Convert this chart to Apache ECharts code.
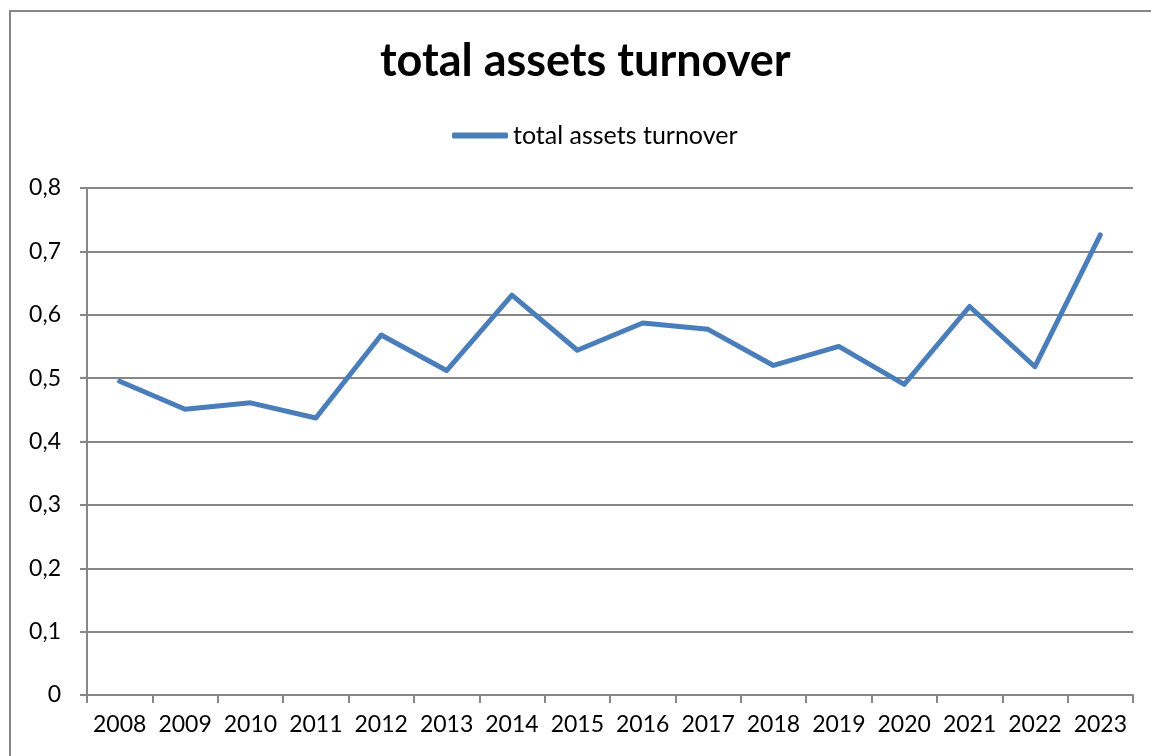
<!DOCTYPE html>
<html>
<head>
<meta charset="utf-8">
<script src="https://cdn.jsdelivr.net/npm/echarts@6/dist/echarts.min.js"></script>
<style>
  html, body { margin: 0; padding: 0; background: #fff; }
  #chart { width: 1151px; height: 756px; }
</style>
</head>
<body>
<div id="chart"></div>
<script>
// data
const years = ['2008', '2009', '2010', '2011', '2012', '2013', '2014', '2015',
  '2016', '2017', '2018', '2019', '2020', '2021', '2022', '2023'];
const turnover = [0.495, 0.451, 0.461, 0.437, 0.568, 0.512, 0.631, 0.544,
  0.587, 0.577, 0.520, 0.550, 0.490, 0.613, 0.518, 0.726];
const seriesName = 'total assets turnover';

const chart = echarts.init(document.getElementById('chart'));
const font = 'Lato, "Open Sans", sans-serif';

chart.setOption({
  animation: false,
  textStyle: { fontFamily: font },
  graphic: [{
    type: 'rect',
    shape: { x: 10, y: 11, width: 1200, height: 800 },
    style: { fill: 'none', stroke: '#868686', lineWidth: 2 }
  }],
  title: {
    text: 'total assets turnover',
    left: 375,
    top: 34,
    textStyle: { fontFamily: font, fontSize: 45, fontWeight: 'bold', color: '#000' }
  },
  legend: {
    data: [{ name: seriesName, icon: 'roundRect' }],
    top: 118,
    left: 447,
    itemWidth: 56,
    itemHeight: 6,
    itemGap: 4,
    textStyle: { fontFamily: font, fontSize: 25, color: '#000' }
  },
  grid: {
    left: 87,
    right: 18,
    top: 188,
    bottom: 61
  },
  xAxis: {
    type: 'category',
    data: years,
    boundaryGap: true,
    axisLine: { lineStyle: { color: '#868686', width: 2 } },
    axisTick: { show: true, alignWithLabel: false, length: 8, lineStyle: { color: '#868686', width: 2 } },
    axisLabel: { color: '#000', fontSize: 23, margin: 18, fontFamily: font, interval: 0 }
  },
  yAxis: {
    type: 'value',
    min: 0,
    max: 0.8,
    interval: 0.1,
    axisLine: { show: true, lineStyle: { color: '#868686', width: 2 } },
    axisTick: { show: true, length: 7, lineStyle: { color: '#868686', width: 2 } },
    splitLine: { lineStyle: { color: '#868686', width: 2 } },
    axisLabel: {
      color: '#000',
      fontSize: 23,
      margin: 26,
      fontFamily: font,
      formatter: v => String(Math.round(v * 10) / 10).replace('.', ',')
    }
  },
  series: [{
    name: seriesName,
    type: 'line',
    data: turnover,
    symbol: 'none',
    lineStyle: { color: '#4a7ebb', width: 5, cap: 'round', join: 'round' },
    itemStyle: { color: '#4a7ebb' }
  }]
});
</script>
</body>
</html>
